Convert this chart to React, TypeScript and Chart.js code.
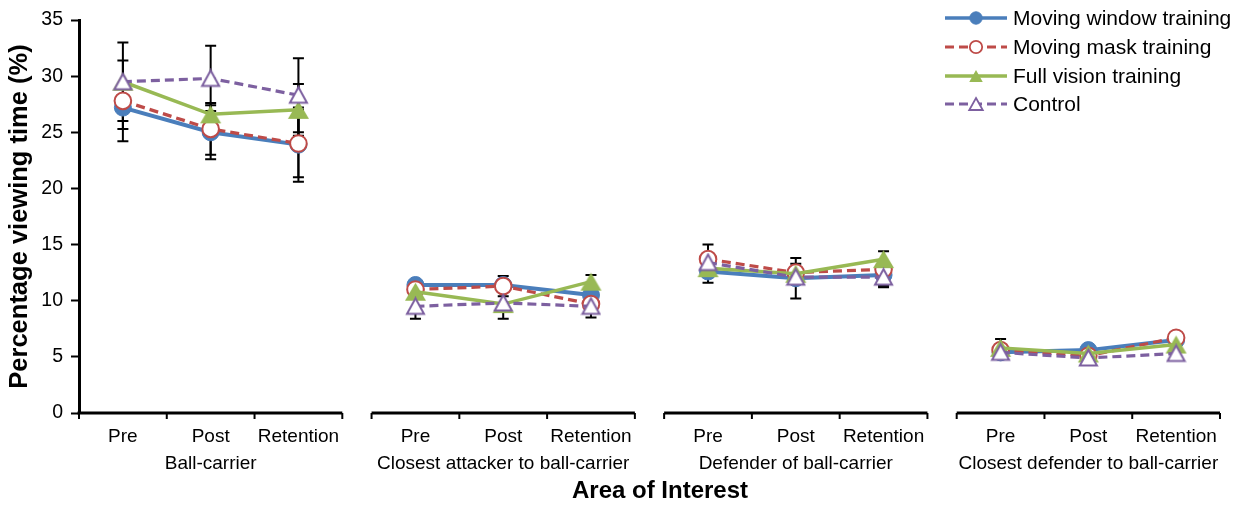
import React, { useEffect, useRef } from "react";
import { Chart, registerables } from "chart.js";

Chart.register(...registerables);

// ---------- data ----------
const groupLabels = [
  "Ball-carrier",
  "Closest attacker to ball-carrier",
  "Defender of ball-carrier",
  "Closest defender to ball-carrier",
];
const phaseLabels = ["Pre", "Post", "Retention"];
const seriesNames = [
  "Moving window training",
  "Moving mask training",
  "Full vision training",
  "Control",
];

const movingWindow = [27.2, 25.0, 23.9, 11.4, 11.4, 10.5, 12.6, 12.0, 12.3, 5.4, 5.6, 6.5];
const movingMask = [27.8, 25.3, 24.0, 11.0, 11.3, 9.7, 13.7, 12.5, 12.8, 5.6, 5.1, 6.7];
const fullVision = [29.5, 26.6, 27.0, 10.8, 9.7, 11.7, 12.9, 12.4, 13.7, 5.8, 5.3, 6.1];
const control = [29.5, 29.8, 28.3, 9.5, 9.8, 9.5, 13.4, 12.1, 12.1, 5.4, 4.9, 5.3];

const movingWindowErr = [1.9, 2.4, 3.3, 0, 0, 0, 1.0, 1.8, 1.0, 0, 0, 0];
const movingMaskErr = [3.6, 2.3, 3.0, 0, 0.9, 0, 1.3, 0.8, 0, 0, 0, 0];
const fullVisionErr = [0, 0, 2.3, 0, 0, 0.6, 0, 0, 0.7, 0.8, 0, 0];
const controlErr = [3.5, 2.9, 3.3, 1.1, 1.4, 1.0, 0, 0, 0.9, 0, 0, 0];

const yMin = 0;
const yMax = 35;
const yStep = 5;

const seriesValues = [movingWindow, movingMask, fullVision, control];
const seriesErrors = [movingWindowErr, movingMaskErr, fullVisionErr, controlErr];

// ---------- layout helpers ----------
const FONT = "'Liberation Sans', Arial, Helvetica, sans-serif";
const GAP = 1 / 3;
const GROUP_SPAN = 3 + GAP;
const X_MAX = groupLabels.length * 3 + (groupLabels.length - 1) * GAP;

const catPos = (i: number) => Math.floor(i / 3) * GROUP_SPAN + (i % 3) + 0.5;

function buildPoints(values: number[]) {
  const pts: { x: number; y: number | null }[] = [];
  values.forEach((v, i) => {
    pts.push({ x: catPos(i), y: v });
    const c = i % 3;
    if (c === 2 && i < values.length - 1) {
      pts.push({ x: Math.floor(i / 3) * GROUP_SPAN + 3 + GAP / 2, y: null });
    }
  });
  return pts;
}

const BLUE = "#4A7EBB";
const RED = "#BE4B48";
const GREEN = "#98B954";
const PURPLE = "#7D60A0";

function makeTriangle(w: number, h: number, fill: string, stroke: string | null, lw: number) {
  const c = document.createElement("canvas");
  c.width = Math.ceil(w) + 2;
  c.height = Math.ceil(h) + 2;
  const ctx = c.getContext("2d")!;
  const cx = c.width / 2;
  const off = stroke ? lw / 2 : 0;
  ctx.beginPath();
  ctx.moveTo(cx, 1 + off);
  ctx.lineTo(cx + w / 2 - off, 1 + h - off);
  ctx.lineTo(cx - w / 2 + off, 1 + h - off);
  ctx.closePath();
  ctx.fillStyle = fill;
  ctx.fill();
  if (stroke) {
    ctx.strokeStyle = stroke;
    ctx.lineWidth = lw;
    ctx.lineJoin = "miter";
    ctx.stroke();
  }
  return c;
}

function drawLegendMarker(ctx: CanvasRenderingContext2D, kind: number, x: number, y: number) {
  ctx.save();
  if (kind === 0 || kind === 1) {
    ctx.beginPath();
    ctx.arc(x, y, 6.2, 0, Math.PI * 2);
    ctx.fillStyle = kind === 0 ? BLUE : "#fff";
    ctx.fill();
    ctx.lineWidth = kind === 0 ? 1 : 1.8;
    ctx.strokeStyle = kind === 0 ? BLUE : RED;
    ctx.stroke();
  } else {
    const w = 13.5;
    const h = 12;
    ctx.beginPath();
    ctx.moveTo(x, y - h / 2);
    ctx.lineTo(x + w / 2, y + h / 2);
    ctx.lineTo(x - w / 2, y + h / 2);
    ctx.closePath();
    ctx.fillStyle = kind === 2 ? GREEN : "#fff";
    ctx.fill();
    if (kind === 3) {
      ctx.lineWidth = 1.8;
      ctx.strokeStyle = PURPLE;
      ctx.stroke();
    }
  }
  ctx.restore();
}

const legendStyles = [
  { color: BLUE, width: 3.5, dash: [] as number[] },
  { color: RED, width: 3, dash: [9, 5] },
  { color: GREEN, width: 3.5, dash: [] as number[] },
  { color: PURPLE, width: 3, dash: [9, 5] },
];

const errorBarPlugin = {
  id: "errorBars",
  beforeDatasetsDraw(chart: any) {
    const { ctx, scales } = chart;
    const xs = scales.x;
    const ys = scales.y;
    ctx.save();
    ctx.strokeStyle = "#000";
    ctx.lineWidth = 2;
    seriesValues.forEach((vals, s) => {
      vals.forEach((v, i) => {
        const e = seriesErrors[s][i];
        if (!e) return;
        const px = xs.getPixelForValue(catPos(i));
        const top = ys.getPixelForValue(v + e);
        const bot = ys.getPixelForValue(v - e);
        ctx.beginPath();
        ctx.moveTo(px, top);
        ctx.lineTo(px, bot);
        ctx.moveTo(px - 5.5, top);
        ctx.lineTo(px + 5.5, top);
        ctx.moveTo(px - 5.5, bot);
        ctx.lineTo(px + 5.5, bot);
        ctx.stroke();
      });
    });
    ctx.restore();
  },
};

const groupedAxisPlugin = {
  id: "groupedXAxis",
  afterDraw(chart: any) {
    const { ctx, chartArea, scales } = chart;
    const xs = scales.x;
    const y0 = chartArea.bottom;
    ctx.save();
    ctx.strokeStyle = "#000";
    ctx.fillStyle = "#000";
    groupLabels.forEach((label, g) => {
      const start = g * GROUP_SPAN;
      const p0 = xs.getPixelForValue(start);
      const p3 = xs.getPixelForValue(start + 3);
      ctx.lineWidth = 3;
      ctx.beginPath();
      ctx.moveTo(p0 - (g === 0 ? 1.5 : 0), y0);
      ctx.lineTo(p3, y0);
      ctx.stroke();
      ctx.lineWidth = 2;
      for (let c = 0; c <= 3; c++) {
        const px = xs.getPixelForValue(start + c);
        ctx.beginPath();
        ctx.moveTo(px, y0);
        ctx.lineTo(px, y0 + 6);
        ctx.stroke();
      }
      ctx.font = `19px ${FONT}`;
      ctx.textAlign = "center";
      ctx.textBaseline = "middle";
      phaseLabels.forEach((p, c) => {
        ctx.fillText(p, xs.getPixelForValue(start + c + 0.5), y0 + 24);
      });
      ctx.fillText(label, xs.getPixelForValue(start + 1.5), y0 + 51);
    });
    ctx.font = `bold 24px ${FONT}`;
    ctx.textAlign = "center";
    ctx.textBaseline = "middle";
    ctx.fillText("Area of Interest", 660, y0 + 78);
    ctx.restore();
  },
};

const legendPlugin = {
  id: "customLegend",
  afterDraw(chart: any) {
    const ctx: CanvasRenderingContext2D = chart.ctx;
    const rows = [18, 47, 76, 104];
    seriesNames.forEach((name, i) => {
      const y = rows[i];
      const st = legendStyles[i];
      ctx.save();
      ctx.strokeStyle = st.color;
      ctx.lineWidth = st.width;
      ctx.setLineDash(st.dash);
      ctx.beginPath();
      ctx.moveTo(945, y);
      ctx.lineTo(1007, y);
      ctx.stroke();
      ctx.setLineDash([]);
      drawLegendMarker(ctx, i, 976, y);
      ctx.fillStyle = "#000";
      ctx.font = `21px ${FONT}`;
      ctx.textAlign = "left";
      ctx.textBaseline = "middle";
      ctx.fillText(name, 1013, y + 1);
      ctx.restore();
    });
  },
};

export default function App() {
  const ref = useRef<HTMLCanvasElement>(null);

  useEffect(() => {
    document.body.style.margin = "0";
    const greenTri = makeTriangle(21, 18, GREEN, null, 0);
    const purpleTri = makeTriangle(19, 17.5, "#fff", PURPLE, 2);

    const chart = new Chart(ref.current!, {
      type: "line",
      data: {
        datasets: [
          {
            label: seriesNames[0],
            data: buildPoints(movingWindow) as any,
            borderColor: BLUE,
            borderWidth: 4,
            pointStyle: "circle",
            pointRadius: 8.5,
            pointBackgroundColor: BLUE,
            pointBorderColor: BLUE,
            pointBorderWidth: 1,
            order: 4,
          },
          {
            label: seriesNames[1],
            data: buildPoints(movingMask) as any,
            borderColor: RED,
            borderWidth: 3.2,
            borderDash: [9, 5],
            pointStyle: "circle",
            pointRadius: 8.3,
            pointBackgroundColor: "#fff",
            pointBorderColor: RED,
            pointBorderWidth: 2,
            order: 3,
          },
          {
            label: seriesNames[2],
            data: buildPoints(fullVision) as any,
            borderColor: GREEN,
            borderWidth: 3.5,
            pointStyle: greenTri as any,
            pointRadius: 10,
            order: 2,
          },
          {
            label: seriesNames[3],
            data: buildPoints(control) as any,
            borderColor: PURPLE,
            borderWidth: 3.2,
            borderDash: [9, 5],
            pointStyle: purpleTri as any,
            pointRadius: 10,
            order: 1,
          },
        ],
      },
      options: {
        animation: false,
        responsive: false,
        devicePixelRatio: 1,
        spanGaps: false,
        layout: { padding: { top: 20, right: 24, left: 0, bottom: 0 } },
        plugins: {
          legend: { display: false },
          tooltip: { enabled: false },
        },
        scales: {
          x: {
            type: "linear",
            min: 0,
            max: X_MAX,
            ticks: { display: false },
            grid: { display: false },
            border: { display: false },
            afterFit: (s: any) => {
              s.height = 93;
            },
          },
          y: {
            min: yMin,
            max: yMax,
            ticks: {
              stepSize: yStep,
              color: "#000",
              font: { family: FONT, size: 19.5 },
              padding: 8,
            },
            grid: {
              drawOnChartArea: false,
              tickLength: 8,
              tickWidth: 2,
              tickColor: "#000",
            },
            border: { display: true, color: "#000", width: 3 },
            title: {
              display: true,
              text: "Percentage viewing time (%)",
              color: "#000",
              font: { family: FONT, size: 25.5, weight: "bold" },
              padding: { top: 5, bottom: 0 },
            },
            afterFit: (s: any) => {
              s.width = 79;
            },
          },
        },
      },
      plugins: [errorBarPlugin, groupedAxisPlugin, legendPlugin],
    });
    return () => chart.destroy();
  }, []);

  return (
    <canvas
      ref={ref}
      width={1244}
      height={506}
      style={{ display: "block", width: 1244, height: 506 }}
    />
  );
}
